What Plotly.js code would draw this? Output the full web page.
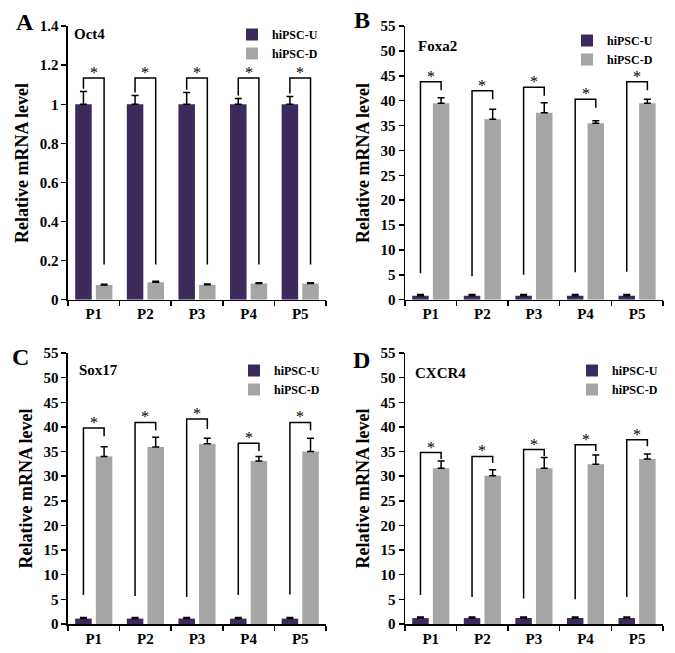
<!DOCTYPE html>
<html lang="en">
<head>
<meta charset="utf-8">
<title>Relative mRNA level</title>
<script src="https://cdn.plot.ly/plotly-3.0.1.min.js"></script>
<style>
body { margin:0; background:#fff; }
#graph { width:675px; height:653px; }
</style>
</head>
<body>
<div id="graph"></div>
<script>
// categories (passages)
var cats = ['P1', 'P2', 'P3', 'P4', 'P5'];
var catPos = [1, 2, 3, 4, 5];

// Oct4
var oct4U = [1.0, 1.0, 1.0, 1.0, 1.0];
var oct4UErr = [0.065, 0.045, 0.06, 0.03, 0.04];
var oct4D = [0.075, 0.09, 0.077, 0.083, 0.083];
var oct4DErr = [0.004, 0.004, 0.004, 0.004, 0.004];
var oct4Bracket = [1.135, 1.135, 1.135, 1.135, 1.135];
var oct4LegL = [1.08, 1.06, 1.075, 1.045, 1.055];
var oct4LegR = [0.18, 0.18, 0.18, 0.18, 0.18];

// Foxa2
var foxa2U = [0.8, 0.8, 0.8, 0.8, 0.8];
var foxa2UErr = [0.25, 0.25, 0.25, 0.25, 0.25];
var foxa2D = [39.5, 36.3, 37.6, 35.5, 39.5];
var foxa2DErr = [1.1, 2.0, 2.0, 0.5, 0.8];
var foxa2Bracket = [43.8, 42.0, 42.7, 40.3, 43.8];
var foxa2LegL = [5.3, 4.7, 5.0, 5.5, 5.6];
var foxa2LegR = [42.1, 40.3, 41.0, 38.6, 42.1];

// Sox17
var sox17U = [1.1, 1.1, 1.1, 1.1, 1.1];
var sox17UErr = [0.2, 0.2, 0.2, 0.2, 0.2];
var sox17D = [34.0, 35.9, 36.6, 33.1, 35.0];
var sox17DErr = [2.0, 2.0, 1.1, 0.9, 2.7];
var sox17Bracket = [39.8, 40.9, 41.6, 36.7, 40.9];
var sox17LegL = [5.9, 5.7, 5.5, 5.9, 6.0];
var sox17LegR = [38.1, 39.3, 39.6, 35.1, 39.3];

// CXCR4
var cxcr4U = [1.2, 1.2, 1.2, 1.2, 1.2];
var cxcr4UErr = [0.2, 0.2, 0.2, 0.2, 0.2];
var cxcr4D = [31.6, 30.1, 31.6, 32.4, 33.5];
var cxcr4DErr = [1.5, 1.2, 2.2, 1.9, 1.0];
var cxcr4Bracket = [34.8, 34.0, 35.4, 36.4, 37.4];
var cxcr4LegL = [5.9, 5.5, 5.2, 5.0, 5.5];
var cxcr4LegR = [33.5, 32.7, 34.1, 35.1, 36.1];

var colU = '#3d2a5c';
var colD = '#a5a5a5';
var serif = 'Liberation Serif, Times New Roman, serif';

var panels = [
  {gene:'Oct4', u:oct4U, ue:oct4UErr, d:oct4D, de:oct4DErr, br:oct4Bracket, ll:oct4LegL, lr:oct4LegR},
  {gene:'Foxa2', u:foxa2U, ue:foxa2UErr, d:foxa2D, de:foxa2DErr, br:foxa2Bracket, ll:foxa2LegL, lr:foxa2LegR},
  {gene:'Sox17', u:sox17U, ue:sox17UErr, d:sox17D, de:sox17DErr, br:sox17Bracket, ll:sox17LegL, lr:sox17LegR},
  {gene:'CXCR4', u:cxcr4U, ue:cxcr4UErr, d:cxcr4D, de:cxcr4DErr, br:cxcr4Bracket, ll:cxcr4LegL, lr:cxcr4LegR}
];

var traces = [];
var annotations = [];
var barW = 0.32;

panels.forEach(function(p, k) {
  var sfx = k == 0 ? '' : String(k + 1);
  var xa = 'x' + sfx, ya = 'y' + sfx, lg = 'legend' + sfx;
  traces.push({
    type:'bar', name:'hiPSC-U', x:catPos, y:p.u, xaxis:xa, yaxis:ya, legend:lg,
    width:barW, offset:-0.36, marker:{color:colU},
    error_y:{type:'data', symmetric:false, array:p.ue, arrayminus:[0,0,0,0,0], color:'#000', thickness:1.5, width:3.5}
  });
  traces.push({
    type:'bar', name:'hiPSC-D', x:catPos, y:p.d, xaxis:xa, yaxis:ya, legend:lg,
    width:barW, offset:0.04, marker:{color:colD},
    error_y:{type:'data', symmetric:false, array:p.de, arrayminus:[0,0,0,0,0], color:'#000', thickness:1.5, width:3.5}
  });
  // significance brackets
  var bx = [], by = [];
  for (var i = 0; i < catPos.length; i++) {
    bx.push(catPos[i] - 0.2, catPos[i] - 0.2, catPos[i] + 0.2, catPos[i] + 0.2, null);
    by.push(p.ll[i], p.br[i], p.br[i], p.lr[i], null);
    annotations.push({xref:xa, yref:ya, x:catPos[i], y:p.br[i], text:'*', showarrow:false,
      yanchor:'bottom', yshift:-5, font:{family:serif, size:16, color:'#000'}});
  }
  traces.push({type:'scatter', mode:'lines', x:bx, y:by, xaxis:xa, yaxis:ya, showlegend:false,
    hoverinfo:'skip', line:{color:'#000', width:1.5}});
});

function xAxis(dom, anchor) {
  return {domain:dom, anchor:anchor, range:[0.5, 5.5], tickvals:catPos, ticktext:cats, ticks:'',
    showline:true, linecolor:'#000', linewidth:1.5, showgrid:false, zeroline:false,
    tickfont:{family:serif, size:15, weight:'bold', color:'#000'},
    minor:{tick0:0.5, dtick:1, ticks:'outside', ticklen:5, tickwidth:1.5, tickcolor:'#000'}};
}
function yAxis(dom, anchor, max, dt) {
  return {domain:dom, anchor:anchor, range:[0, max], dtick:dt, ticks:'outside', ticklen:5, tickwidth:1.5,
    tickcolor:'#000', showline:true, linecolor:'#000', linewidth:1.5, showgrid:false, zeroline:false,
    tickfont:{family:serif, size:15, weight:'bold', color:'#000'},
    title:{text:'Relative mRNA level', standoff:6, font:{family:serif, size:18, weight:'bold', color:'#000'}}};
}

var topDom = [0.541, 0.960], botDom = [0.0444, 0.4594];
var leftDom = [0.1007, 0.483], rightDom = [0.6, 0.982];

function legendAt(x, y) {
  return {x:x, y:y, xanchor:'left', yanchor:'top', bgcolor:'rgba(0,0,0,0)', tracegroupgap:0,
    itemwidth:30, font:{family:serif, size:12, weight:'bold', color:'#000'}};
}

var labels = [['A', 25, 22], ['B', 362, 20], ['C', 20, 357], ['D', 361, 360]];
labels.forEach(function(l) {
  annotations.push({xref:'paper', yref:'paper', x:l[1] / 675, y:1 - l[2] / 653, text:l[0], showarrow:false,
    xanchor:'center', yanchor:'middle', font:{family:serif, size:24, weight:'bold', color:'#000'}});
});
var genes = [['Oct4', 72, 34], ['Foxa2', 416, 46], ['Sox17', 77, 370], ['CXCR4', 413, 373]];
genes.forEach(function(g) {
  annotations.push({xref:'paper', yref:'paper', x:g[1] / 675, y:1 - g[2] / 653, text:g[0], showarrow:false,
    xanchor:'left', yanchor:'middle', font:{family:serif, size:15, weight:'bold', color:'#000'}});
});

var layout = {
  width:675, height:653, margin:{l:0, r:0, t:0, b:0},
  paper_bgcolor:'#fff', plot_bgcolor:'#fff', barmode:'overlay', showlegend:true,
  xaxis:xAxis(leftDom, 'y'), yaxis:yAxis(topDom, 'x', 1.4, 0.2),
  xaxis2:xAxis(rightDom, 'y2'), yaxis2:yAxis(topDom, 'x2', 55, 5),
  xaxis3:xAxis(leftDom, 'y3'), yaxis3:yAxis(botDom, 'x3', 55, 5),
  xaxis4:xAxis(rightDom, 'y4'), yaxis4:yAxis(botDom, 'x4', 55, 5),
  legend:legendAt(232 / 675, 1 - 20 / 653),
  legend2:legendAt(567 / 675, 1 - 26 / 653),
  legend3:legendAt(234 / 675, 1 - 356 / 653),
  legend4:legendAt(572 / 675, 1 - 356 / 653),
  annotations:annotations
};

Plotly.newPlot('graph', traces, layout, {displayModeBar:false, staticPlot:true});
</script>
</body>
</html>
